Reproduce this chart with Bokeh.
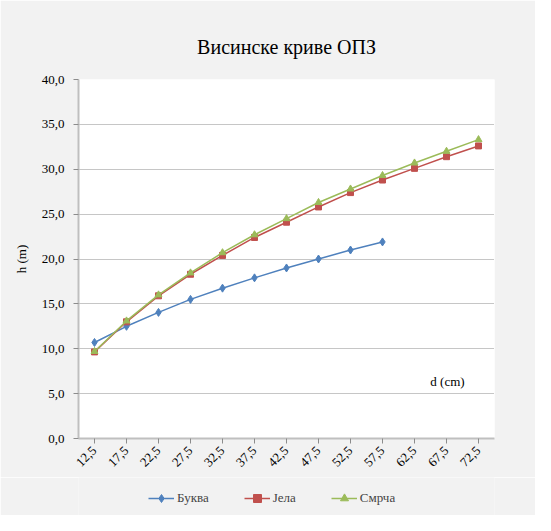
from bokeh.plotting import figure
from bokeh.layouts import column
from bokeh.models import (FixedTicker, Legend, LegendItem, Label, Range1d, FactorRange, Title)
from bokeh.embed import file_html
from bokeh.resources import INLINE
from math import pi

categories = ["12,5", "17,5", "22,5", "27,5", "32,5", "37,5", "42,5", "47,5", "52,5", "57,5", "62,5", "67,5", "72,5"]
bukva = [10.7, 12.5, 14.05, 15.5, 16.75, 17.9, 19.0, 20.0, 21.0, 21.9]
jela = [9.65, 13.0, 15.9, 18.3, 20.4, 22.4, 24.1, 25.8, 27.4, 28.8, 30.1, 31.4, 32.6]
smrca = [9.7, 13.1, 16.0, 18.45, 20.7, 22.7, 24.5, 26.3, 27.8, 29.3, 30.7, 32.0, 33.3]
series_names = ["Буква", "Јела", "Смрча"]
y_ticks = [0, 5, 10, 15, 20, 25, 30, 35, 40]
y_tick_labels = ["0,0", "5,0", "10,0", "15,0", "20,0", "25,0", "30,0", "35,0", "40,0"]

FONT = "Liberation Serif"
BG = "#F2F2F2"
blue, red, green = "#4F81BD", "#C0504D", "#9BBB59"
series = [(series_names[0], bukva, blue, "diamond", 8),
          (series_names[1], jela, red, "square", 6),
          (series_names[2], smrca, green, "triangle", 7)]

p = figure(width=535, height=477, x_range=FactorRange(*categories, range_padding=0),
           y_range=Range1d(0, 40), output_backend="svg", toolbar_location=None,
           min_border_left=78, min_border_right=41, min_border_top=79, min_border_bottom=39)
p.background_fill_color = "white"
p.border_fill_color = BG
p.outline_line_color = None

title = Title(text="Висинске криве ОПЗ", align="center", text_font=FONT,
              text_font_size="20px", text_font_style="normal", text_color="#000000",
              standoff=44)
p.add_layout(title, "above")

p.xgrid.grid_line_color = None
p.ygrid.grid_line_color = "#8c8c8c"
p.ygrid.grid_line_dash = "1 1"
p.ygrid.grid_line_width = 1
p.yaxis.ticker = FixedTicker(ticks=y_ticks)
p.yaxis.major_label_overrides = {t: l for t, l in zip(y_ticks, y_tick_labels)}

for ax in (p.xaxis[0], p.yaxis[0]):
    ax.axis_line_color = "#BFBFBF"
    ax.axis_line_width = 2
    ax.major_tick_line_color = "#8c8c8c"
    ax.major_tick_in = 0
    ax.major_tick_out = 5
    ax.minor_tick_line_color = None
    ax.major_label_text_font = FONT
    ax.major_label_text_font_size = "13px"
    ax.major_label_text_color = "#000000"
    ax.axis_label_text_font = FONT
    ax.axis_label_text_font_size = "13px"
    ax.axis_label_text_font_style = "normal"
    ax.axis_label_text_color = "#000000"

p.xaxis.major_label_orientation = pi / 4
p.yaxis.major_label_standoff = 9
p.yaxis.axis_label = "h (m)"
p.yaxis.axis_label_standoff = 10

for name, vals, col, mk, sz in series:
    xs = categories[:len(vals)]
    p.line(xs, vals, line_color=col, line_width=1.5)
    p.scatter(xs, vals, marker=mk, size=sz, fill_color=col, line_color=col)

p.add_layout(Label(x=11.53, y=5.5, text="d (cm)", text_align="center", text_baseline="bottom",
                   text_font=FONT, text_font_size="13px", text_color="#000000"))

# legend strip below the chart: same series drawn out of view, only legend visible
p2 = figure(width=535, height=38, x_range=FactorRange(*categories, range_padding=0),
            y_range=Range1d(1000, 1001),
            output_backend="svg", toolbar_location=None, min_border=0)
p2.axis.visible = False
p2.grid.visible = False
p2.outline_line_color = None
p2.background_fill_color = BG
p2.border_fill_color = BG

items = []
for name, vals, col, mk, sz in series:
    xs = categories[:len(vals)]
    lr = p2.line(xs, vals, line_color=col, line_width=1.5)
    sr = p2.scatter(xs, vals, marker=mk, size=sz, fill_color=col, line_color=col)
    items.append(LegendItem(label=name, renderers=[lr, sr]))

legend = Legend(items=items, orientation="horizontal", location=(70, 7),
                label_text_font=FONT, label_text_font_size="13px",
                background_fill_alpha=0, border_line_color=None,
                glyph_width=26, spacing=35, padding=2, margin=0, label_standoff=3)
p2.add_layout(legend, "center")

layout = column(p, p2, spacing=0)
open("out.html", "w").write(file_html(layout, INLINE))
